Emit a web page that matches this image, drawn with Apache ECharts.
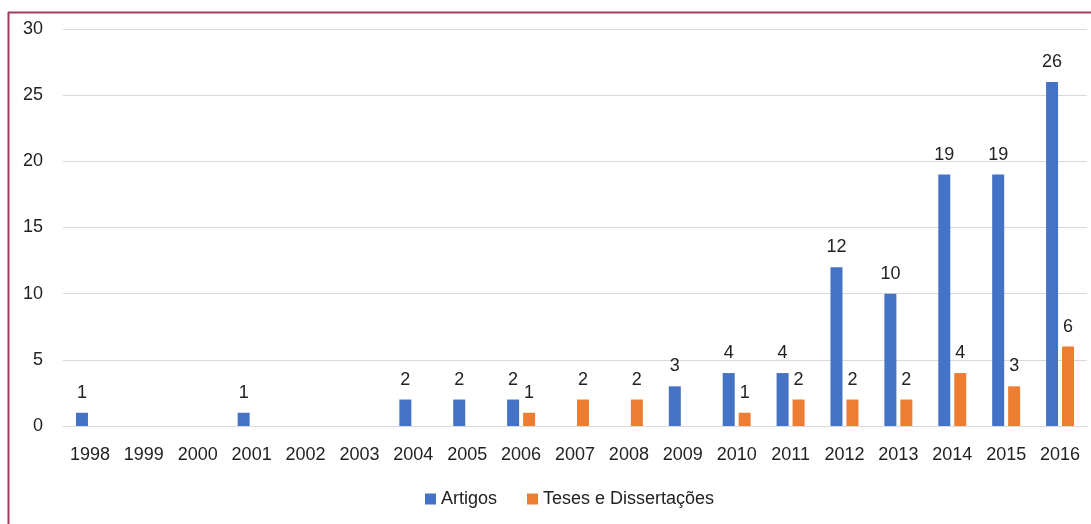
<!DOCTYPE html>
<html><head><meta charset="utf-8">
<style>html,body{margin:0;padding:0;background:#fff}#c{width:1091px;height:524px}</style>
<script src="https://cdn.jsdelivr.net/npm/echarts@6/dist/echarts.min.js"></script>
</head><body><div id="c"></div>
<script>
const years = ['1998','1999','2000','2001','2002','2003','2004','2005','2006','2007','2008','2009','2010','2011','2012','2013','2014','2015','2016'];
const artigos = [1,null,null,1,null,null,2,2,2,null,null,3,4,4,12,10,19,19,26];
const teses = [null,null,null,null,null,null,null,null,1,2,2,null,1,2,2,2,4,3,6];
const yTicks = [0,5,10,15,20,25,30];

const FONT = '"Liberation Sans Narrow","Arial Narrow","Liberation Sans",sans-serif';
const chart = echarts.init(document.getElementById('c'));
const lbl = {show:true, position:'top', distance:11, color:'#222', fontFamily:FONT, fontSize:18};
chart.setOption({
  animation:false,
  textStyle:{fontFamily:FONT},
  graphic:[
    {type:'line', shape:{x1:8,y1:12.5,x2:1091,y2:12.5}, style:{stroke:'#A23A62',lineWidth:2}},
    {type:'line', shape:{x1:8.5,y1:12,x2:8.5,y2:524}, style:{stroke:'#A23A62',lineWidth:2}}
  ],
  grid:{left:63, right:4, top:29, bottom:98},
  legend:{bottom:11, left:420, itemWidth:11, itemHeight:11, itemGap:30, icon:'rect',
    textStyle:{fontFamily:FONT, fontSize:18, color:'#222'},
    data:['Artigos','Teses e Dissertações']},
  xAxis:{type:'category', data:years,
    axisLine:{lineStyle:{color:'#d9d9d9'}}, axisTick:{show:false},
    axisLabel:{color:'#222', fontFamily:FONT, fontSize:18, margin:20}},
  yAxis:{type:'value', min:yTicks[0], max:yTicks[yTicks.length-1], interval:5,
    axisLine:{show:false}, axisTick:{show:false},
    splitLine:{lineStyle:{color:'#d9d9d9'}},
    axisLabel:{color:'#222', fontFamily:FONT, fontSize:18, margin:20}},
  series:[
    {name:'Artigos', type:'bar', data:artigos, barWidth:12, barGap:'33%', itemStyle:{color:'#4472C4'}, label:lbl},
    {name:'Teses e Dissertações', type:'bar', data:teses, barWidth:12, barGap:'33%', itemStyle:{color:'#ED7D31'}, label:lbl}
  ]
});
</script></body></html>
